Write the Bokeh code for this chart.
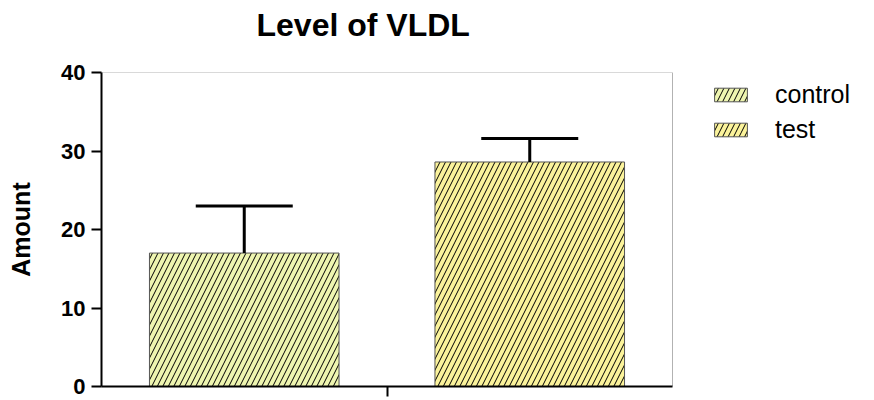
from bokeh.plotting import figure
from bokeh.models import (Range1d, FixedTicker, Whisker, TeeHead, ColumnDataSource,
                          Legend, LegendItem, LinearAxis, BoxAnnotation)
from bokeh.embed import file_html
from bokeh.resources import INLINE

# ---- data ----
groups = ["control", "test"]
means = [17.0, 28.6]
errors = [6.0, 3.0]
y_ticks = [0, 10, 20, 30, 40]
title_text = "Level of VLDL"
y_label = "Amount"

# ---- style / layout ----
fills = ["#EEF5B0", "#FBF39B"]
FONT = "Liberation Sans"
W, H = 874, 400
LEFT, TOP, BOTTOM = 101, 72, 14
PLOT_W = 571          # pixel width of the bar area (the boxed part)
n = len(groups)
x_end = n * (W - LEFT) / PLOT_W   # extra room on the right holds the legend
mid = n / 2

p = figure(width=W, height=H, output_backend="svg", toolbar_location=None,
           x_range=Range1d(0, x_end), y_range=Range1d(0, y_ticks[-1]),
           min_border_left=LEFT, min_border_right=0, min_border_top=TOP,
           min_border_bottom=BOTTOM, title=title_text,
           x_axis_type=None, y_axis_type=None)

p.title.align = "left"
p.title.offset = 155
p.title.standoff = 0
p.title.text_font = FONT
p.title.text_font_size = "32px"
p.title.text_font_style = "bold"
p.title.text_color = "black"

p.grid.visible = False
p.background_fill_color = "white"
p.border_fill_color = "white"
p.outline_line_color = None

# invisible top spacer (keeps the title clear of the box)
top_ax = LinearAxis(ticker=FixedTicker(ticks=[mid]), major_tick_out=30,
                    major_tick_in=0, minor_tick_out=0, minor_tick_in=0,
                    axis_line_alpha=0, major_tick_line_alpha=0,
                    minor_tick_line_alpha=0, major_label_standoff=0,
                    major_label_text_font_size="1px",
                    major_label_overrides={mid: ""})
p.add_layout(top_ax, "above")

# left axis
yax = LinearAxis(ticker=FixedTicker(ticks=y_ticks))
yax.axis_line_width = 2
yax.axis_line_color = "black"
yax.major_tick_line_width = 2
yax.major_tick_out = 10
yax.major_tick_in = 0
yax.minor_tick_out = 0
yax.minor_tick_in = 0
yax.major_label_text_font = FONT
yax.major_label_text_font_style = "bold"
yax.major_label_text_font_size = "22px"
yax.major_label_text_color = "black"
yax.major_label_standoff = 6
yax.axis_label = y_label
yax.axis_label_text_font = FONT
yax.axis_label_text_font_style = "bold"
yax.axis_label_text_font_size = "25px"
yax.axis_label_text_color = "black"
yax.axis_label_standoff = 23
p.add_layout(yax, "left")

# bottom axis: one tick between the groups, no labels
xax = LinearAxis(ticker=FixedTicker(ticks=[mid]), bounds=(0, n))
xax.major_label_overrides = {mid: ""}
xax.axis_line_width = 2
xax.axis_line_color = "black"
xax.major_tick_line_width = 2
xax.major_tick_out = 10
xax.major_tick_in = 0
xax.minor_tick_out = 0
xax.minor_tick_in = 0
xax.major_label_text_font_size = "1px"
xax.major_label_standoff = 0
p.add_layout(xax, "below")

# thin box around the bar area
p.add_layout(BoxAnnotation(left=0, right=n, bottom=0, top=y_ticks[-1],
                           fill_alpha=0, line_color="black", line_width=1,
                           level="underlay"))

items = []
for i, g in enumerate(groups):
    src = ColumnDataSource(dict(x=[i + 0.5], top=[means[i]],
                                upper=[means[i] + errors[i]]))
    r = p.vbar(x="x", top="top", bottom=0, width=0.664, source=src,
               fill_color=fills[i], line_color="#555555", line_width=1,
               hatch_pattern="/", hatch_scale=11, hatch_color="black",
               hatch_weight=1)
    w = Whisker(base="x", lower="top", upper="upper", source=src,
                dimension="height", line_width=3, line_color="black",
                upper_head=TeeHead(size=97, line_width=3, line_color="black"),
                lower_head=None, level="overlay")
    p.add_layout(w)
    items.append(LegendItem(label=g, renderers=[r]))

legend = Legend(items=items, location=(609, 242), glyph_width=41, glyph_height=17,
                label_standoff=24, label_text_font=FONT, label_text_font_size="25px",
                label_text_color="black", border_line_alpha=0,
                background_fill_alpha=0, padding=0, margin=0, spacing=6)
p.add_layout(legend)

open("out.html", "w").write(file_html(p, INLINE))
